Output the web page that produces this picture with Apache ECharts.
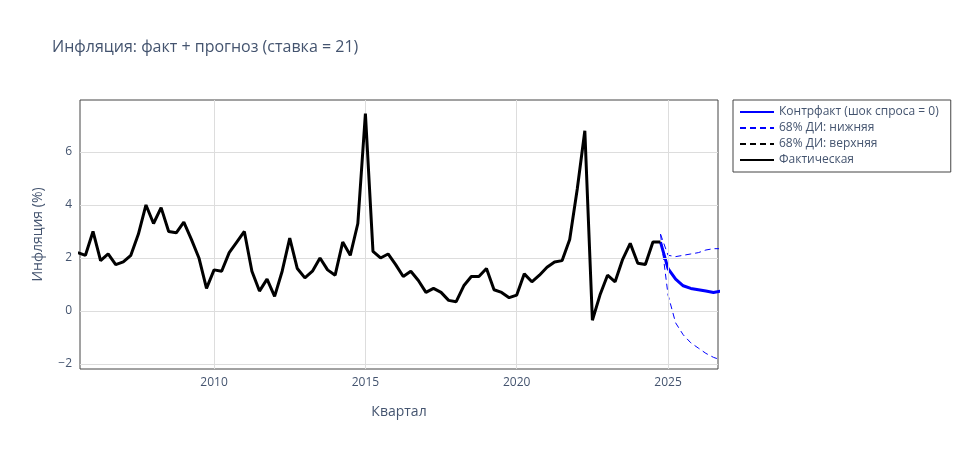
<!DOCTYPE html>
<html>
<head>
<meta charset="utf-8">
<script src="https://cdn.jsdelivr.net/npm/echarts@6/dist/echarts.min.js"></script>
<style>html,body{margin:0;padding:0;background:#fff}#chart{width:971px;height:450px}</style>
</head>
<body>
<div id="chart"></div>
<script>
// квартальные данные, начиная с 2005.5, шаг 0.25
const actualStart = 2005.5
const actual = [2.2, 2.1, 3.0, 1.9, 2.15, 1.75, 1.85, 2.1, 2.9, 4.0,
  3.3, 3.9, 3.0, 2.95, 3.35, 2.7, 2.0, 0.85, 1.55, 1.5,
  2.2, 2.6, 3.0, 1.5, 0.75, 1.2, 0.55, 1.5, 2.75, 1.6,
  1.25, 1.5, 2.0, 1.55, 1.35, 2.6, 2.1, 3.3, 7.45, 2.25,
  2.0, 2.15, 1.75, 1.3, 1.5, 1.15, 0.7, 0.85, 0.7, 0.4,
  0.35, 0.95, 1.3, 1.3, 1.6, 0.8, 0.7, 0.5, 0.6, 1.4,
  1.1, 1.35, 1.65, 1.85, 1.9, 2.7, 4.6, 6.8, -0.35, 0.6,
  1.35, 1.1, 1.95, 2.55, 1.8, 1.75, 2.6, 2.6]
const fcStart = 2024.75
const counterfact = [2.6, 1.6, 1.2, 0.95, 0.85, 0.8, 0.75, 0.7, 0.75]
const lower68 = [2.9, 0.6, -0.45, -0.9, -1.2, -1.4, -1.6, -1.75, -1.85]
const upper68 = [2.9, 2.1, 2.05, 2.1, 2.15, 2.2, 2.3, 2.35, 2.35]
const xTicks = [2010, 2015, 2020, 2025]
const yTicks = [-2, 0, 2, 4, 6]

const toXY = (start, arr) => arr.map((v, i) => [start + i * 0.25, v])
const txt = '#2a3f5f'
const gridLines = {
  silent: true, symbol: 'none', label: {show: false},
  lineStyle: {color: '#dddddd', type: 'solid', width: 1},
  data: xTicks.map(v => ({xAxis: v})).concat(yTicks.map(v => ({yAxis: v})))
}

const chart = echarts.init(document.getElementById('chart'))
chart.setOption({
  animation: false,
  textStyle: {fontFamily: '"Open Sans", Arial, sans-serif'},
  title: {text: 'Инфляция: факт + прогноз (ставка = 21)', left: 47, top: 34,
    textStyle: {color: '#44546f', fontSize: 16, fontWeight: 'normal'}},
  grid: {left: 80, right: 253, top: 100, bottom: 81, show: true, borderColor: '#444', borderWidth: 1},
  legend: {
    orient: 'vertical', left: 733, top: 100, itemGap: 4, itemWidth: 34, itemHeight: 12,
    borderColor: '#444', borderWidth: 1, padding: [6, 12, 6, 6],
    itemStyle: {opacity: 0},
    textStyle: {color: '#44546f', fontSize: 12},
    data: [
      {name: 'Контрфакт (шок спроса = 0)'},
      {name: '68% ДИ: нижняя'},
      {name: '68% ДИ: верхняя', lineStyle: {color: '#000000'}},
      {name: 'Фактическая'}
    ]
  },
  xAxis: {
    type: 'value', min: 2005.57, max: 2026.65,
    name: 'Квартал', nameLocation: 'middle', nameGap: 36, nameTextStyle: {color: '#44546f', fontSize: 14},
    axisLine: {show: false}, splitLine: {show: false},
    axisTick: {show: false, customValues: xTicks},
    axisLabel: {color: '#44546f', fontSize: 12, customValues: xTicks, formatter: v => String(v)}
  },
  yAxis: {
    type: 'value', min: -2.19, max: 7.96,
    name: 'Инфляция (%)', nameLocation: 'middle', nameGap: 35, nameTextStyle: {color: '#44546f', fontSize: 14},
    axisLine: {show: false}, splitLine: {show: false},
    axisTick: {show: false, customValues: yTicks},
    axisLabel: {color: '#44546f', fontSize: 12, customValues: yTicks, formatter: v => v < 0 ? '−' + (-v) : String(v)}
  },
  series: [
    {name: 'Контрфакт (шок спроса = 0)', type: 'line', data: toXY(fcStart, counterfact), symbol: 'none',
      lineStyle: {color: '#0000ff', width: 3}, itemStyle: {color: '#0000ff'}, z: 4,
      markLine: gridLines},
    {name: '68% ДИ: нижняя', type: 'line', data: toXY(fcStart, lower68), symbol: 'none',
      lineStyle: {color: '#0000ff', width: 1, type: [6, 4]}, itemStyle: {color: '#0000ff'}, z: 3},
    {name: '68% ДИ: верхняя', type: 'line', data: toXY(fcStart, upper68), symbol: 'none',
      lineStyle: {color: '#0000ff', width: 1, type: [6, 4]}, itemStyle: {color: '#000000'}, z: 3},
    {name: 'Фактическая', type: 'line', data: toXY(actualStart, actual), symbol: 'none',
      lineStyle: {color: '#000000', width: 3}, itemStyle: {color: '#000000'}, z: 5}
  ]
})
</script>
</body>
</html>
